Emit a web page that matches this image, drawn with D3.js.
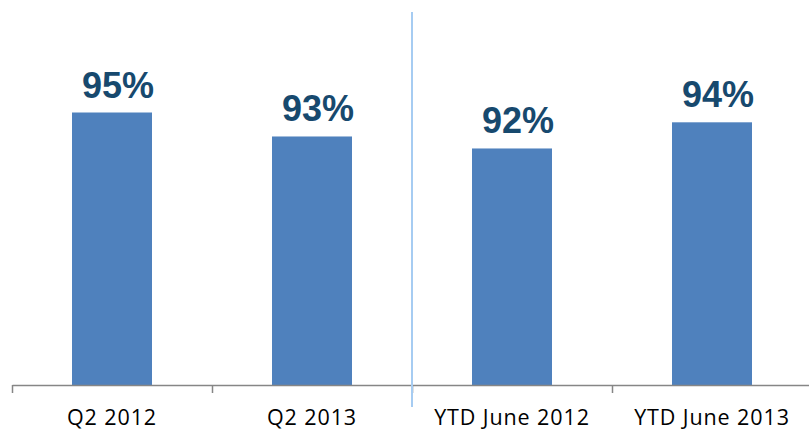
<!DOCTYPE html>
<html>
<head>
<meta charset="utf-8">
<script src="https://cdn.jsdelivr.net/npm/d3@7"></script>
<style>
  body { margin: 0; background: #fff; }
  svg { display: block; }
</style>
</head>
<body>
<svg id="chart"></svg>
<script>
// values, labels show them rounded
var categories = ["Q2 2012", "Q2 2013", "YTD June 2012", "YTD June 2013"];
var values = [95.0, 92.8, 91.7, 94.1];
var yDomain = [70, 100];

var width = 809, height = 431;
var svg = d3.select("#chart")
    .attr("width", width)
    .attr("height", height);

var xScale = d3.scaleBand()
    .domain(categories)
    .range([12, 812])
    .paddingInner(0.6)
    .paddingOuter(0.3);

var yScale = d3.scaleLinear()
    .domain(yDomain)
    .range([385, 58]);

var data = categories.map(function(c, i) { return { cat: c, value: values[i] }; });

// bars
svg.selectAll("rect.bar")
    .data(data)
    .enter()
    .append("rect")
    .attr("class", "bar")
    .attr("x", function(d) { return xScale(d.cat); })
    .attr("y", function(d) { return yScale(d.value); })
    .attr("width", xScale.bandwidth())
    .attr("height", function(d) { return yScale(yDomain[0]) - yScale(d.value); })
    .attr("fill", "#4F81BD");

// value labels
svg.selectAll("text.val")
    .data(data)
    .enter()
    .append("text")
    .attr("class", "val")
    .attr("x", function(d) { return xScale(d.cat) + xScale.bandwidth() / 2 + 6; })
    .attr("y", function(d) { return yScale(d.value) - 15; })
    .attr("text-anchor", "middle")
    .attr("font-family", "Liberation Sans, Arial, sans-serif")
    .attr("font-weight", "bold")
    .attr("font-size", 36)
    .attr("fill", "#17496E")
    .text(function(d) { return d3.format(".0f")(d.value) + "%"; });

// category axis with ticks between bands
var xEdge = d3.scaleLinear().domain([0, categories.length]).range([12, 812]);
var xAxis = d3.axisBottom(xEdge)
    .tickValues(d3.range(categories.length + 1))
    .tickSize(8)
    .tickSizeOuter(0)
    .tickFormat("");

var axisG = svg.append("g")
    .attr("transform", "translate(0,385)")
    .call(xAxis);
axisG.select(".domain").attr("stroke", "#868686").attr("stroke-width", 1.5);
axisG.selectAll(".tick line").attr("stroke", "#868686").attr("stroke-width", 1.5);

// category labels
svg.selectAll("text.cat")
    .data(categories)
    .enter()
    .append("text")
    .attr("class", "cat")
    .attr("x", function(d) { return xScale(d) + xScale.bandwidth() / 2; })
    .attr("y", 425)
    .attr("text-anchor", "middle")
    .attr("font-family", "Open Sans, sans-serif")
    .attr("font-size", 21.5)
    .attr("letter-spacing", 0.9)
    .attr("fill", "#000")
    .text(function(d) { return d; });

// divider between quarter and YTD groups
var divX = xEdge(2);
svg.append("line")
    .attr("x1", divX)
    .attr("x2", divX)
    .attr("y1", 12)
    .attr("y2", 407)
    .attr("stroke", "#A6CCF2")
    .attr("stroke-width", 2);
</script>
</body>
</html>
